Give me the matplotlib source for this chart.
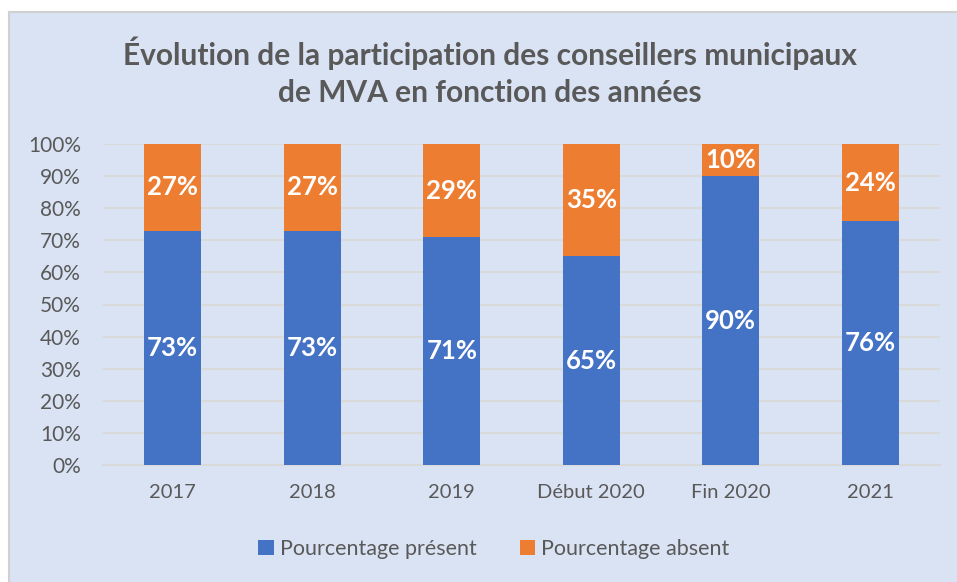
import matplotlib.pyplot as plt
from matplotlib.patches import Rectangle
import numpy as np

plt.rcParams['font.family'] = ['Lato', 'DejaVu Sans']

# Participation data per year
annees = ['2017', '2018', '2019', 'Début 2020', 'Fin 2020', '2021']
present = [73, 73, 71, 65, 90, 76]
absent = [27, 27, 29, 35, 10, 24]

bleu = '#4472C4'
orange = '#ED7D31'
fond = '#DAE3F3'
gris = '#595959'

fig = plt.figure(figsize=(9.57, 5.82), dpi=100)
fig.patch.set_facecolor('white')

# chart background box with a thin grey border
W, H = 957, 582
fig.patches.append(Rectangle((9 / W, -0.01), 1.0, 1 - 12 / H + 0.01,
                             transform=fig.transFigure, facecolor=fond,
                             edgecolor='#D0D0D0', linewidth=1.5, zorder=-10))

ax = fig.add_axes([103 / W, 1 - 465 / H, (940 - 103) / W, (465 - 144) / H])
ax.set_facecolor('none')

x = np.arange(len(annees))
largeur = 0.41
ax.bar(x, present, largeur, color=bleu, label='Pourcentage présent', zorder=3)
ax.bar(x, absent, largeur, bottom=present, color=orange,
       label='Pourcentage absent', zorder=3)

for i in range(len(annees)):
    ax.text(x[i], present[i] / 2, f'{present[i]}%', ha='center', va='center',
            color='white', fontsize=18.5, fontweight='bold', zorder=4)
    ax.text(x[i], present[i] + absent[i] / 2, f'{absent[i]}%', ha='center',
            va='center', color='white', fontsize=18.5, fontweight='bold', zorder=4)

ax.set_xlim(-0.5, len(annees) - 0.5)
ax.set_ylim(0, 100)
ax.set_yticks(range(0, 101, 10))
ax.set_yticklabels([f'{v}%' for v in range(0, 101, 10)])
ax.set_xticks(x)
ax.set_xticklabels(annees)
ax.tick_params(axis='both', length=0, labelsize=14.5, labelcolor=gris)
ax.tick_params(axis='x', pad=14)
ax.tick_params(axis='y', pad=16, labelsize=15)
ax.grid(axis='y', color='#D9D9D9', linewidth=1.5, zorder=0)
for s in ['top', 'right', 'left']:
    ax.spines[s].set_visible(False)
ax.spines['bottom'].set_color('#D9D9D9')
ax.spines['bottom'].set_linewidth(1.5)

fig.text(490 / W, 1 - 72 / H,
         'Évolution de la participation des conseillers municipaux\nde MVA en fonction des années',
         ha='center', va='center', fontsize=21.5, fontweight='bold', color=gris,
         linespacing=1.4)

leg = fig.legend(loc='center', bbox_to_anchor=(494 / W, 1 - 549 / H), ncol=2,
                 frameon=False, fontsize=15.5, handlelength=0.7, handleheight=0.7,
                 handletextpad=0.3, columnspacing=2.0)
for t in leg.get_texts():
    t.set_color(gris)

fig.savefig('out.png', dpi=100, facecolor='white')
